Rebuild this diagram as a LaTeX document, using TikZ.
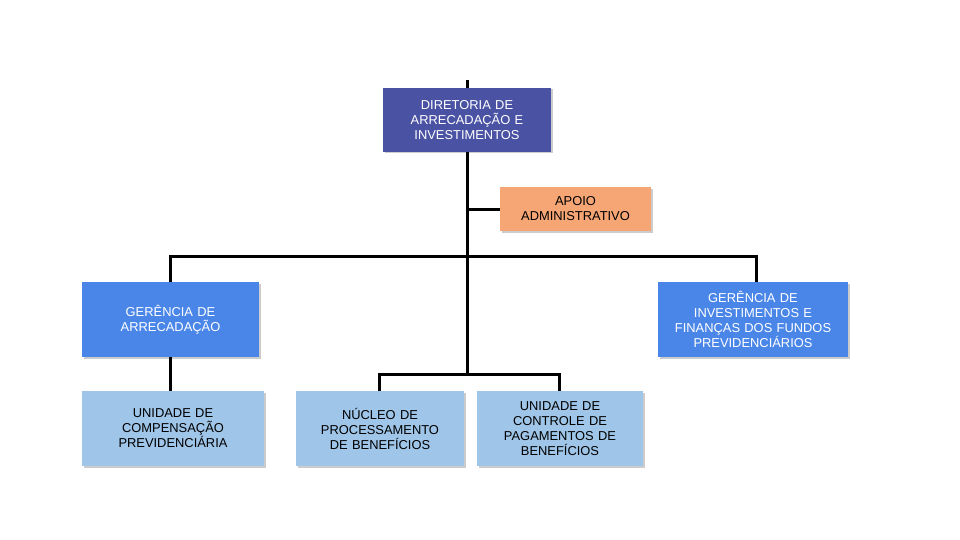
\documentclass[tikz,border=0pt]{standalone}
\usepackage{fontspec}
\setmainfont{Liberation Sans}
\usetikzlibrary{backgrounds,shadows}
\definecolor{dirc}{HTML}{4A52A4}
\definecolor{apoioc}{HTML}{F6A675}
\definecolor{gerc}{HTML}{4A86E8}
\definecolor{unic}{HTML}{9FC5E8}
\tikzset{
  box/.style={draw=none, inner sep=2pt, align=center, font=\fontsize{12.9}{15}\selectfont,
    drop shadow={shadow xshift=1.5pt, shadow yshift=-1.5pt, opacity=0.2, fill=black}},
  dirbox/.style={box, fill=dirc, text=white, minimum width=168pt, minimum height=64pt, text width=150pt},
  apbox/.style={box, fill=apoioc, text=black, minimum width=151pt, minimum height=44pt, text width=140pt},
  gerbox/.style={box, fill=gerc, text=white, minimum height=75pt},
  unibox/.style={box, fill=unic, text=black, minimum height=75pt},
  conn/.style={line width=3pt, black}
}
\begin{document}
\begin{tikzpicture}[x=1pt,y=-1pt]
\useasboundingbox (0,0) rectangle (960,540);
\node[dirbox] (dir) at (467,120) {DIRETORIA DE\\ARRECADAÇÃO E\\INVESTIMENTOS};
\node[apbox] (apoio) at (575.5,209) {APOIO\\ADMINISTRATIVO};
\node[gerbox, minimum width=177pt, text width=165pt] (ga) at (170.5,319.5) {GERÊNCIA DE\\ARRECADAÇÃO};
\node[gerbox, minimum width=190pt, text width=182pt] (gi) at (753,319.5) {GERÊNCIA DE\\INVESTIMENTOS E\\FINANÇAS DOS FUNDOS\\PREVIDENCIÁRIOS};
\node[unibox, minimum width=182pt, text width=170pt] (uc) at (173,428.5) {UNIDADE DE\\COMPENSAÇÃO\\PREVIDENCIÁRIA};
\node[unibox, minimum width=168pt, text width=158pt] (np) at (380,428.5) {NÚCLEO DE\\PROCESSAMENTO\\DE BENEFÍCIOS};
\node[unibox, minimum width=166pt, text width=156pt] (ucp) at (560,428.5) {UNIDADE DE\\CONTROLE DE\\PAGAMENTOS DE\\BENEFÍCIOS};
\coordinate (top) at (467,80);
\coordinate (hub) at (467,256);
\coordinate (jn) at (467,374);
\begin{scope}[on background layer]
\draw[conn] (top) -- (jn);
\draw[conn] (apoio.west) -- (apoio.west -| top);
\draw[conn] (ga.north -| 170,0) |- (hub) -| (gi.north -| 756,0);
\draw[conn] (np.north -| 379,0) |- (jn) -| (ucp.north -| 559,0);
\draw[conn] (ga.south -| 170,0) -- (uc.north -| 170,0);
\end{scope}
\end{tikzpicture}
\end{document}
